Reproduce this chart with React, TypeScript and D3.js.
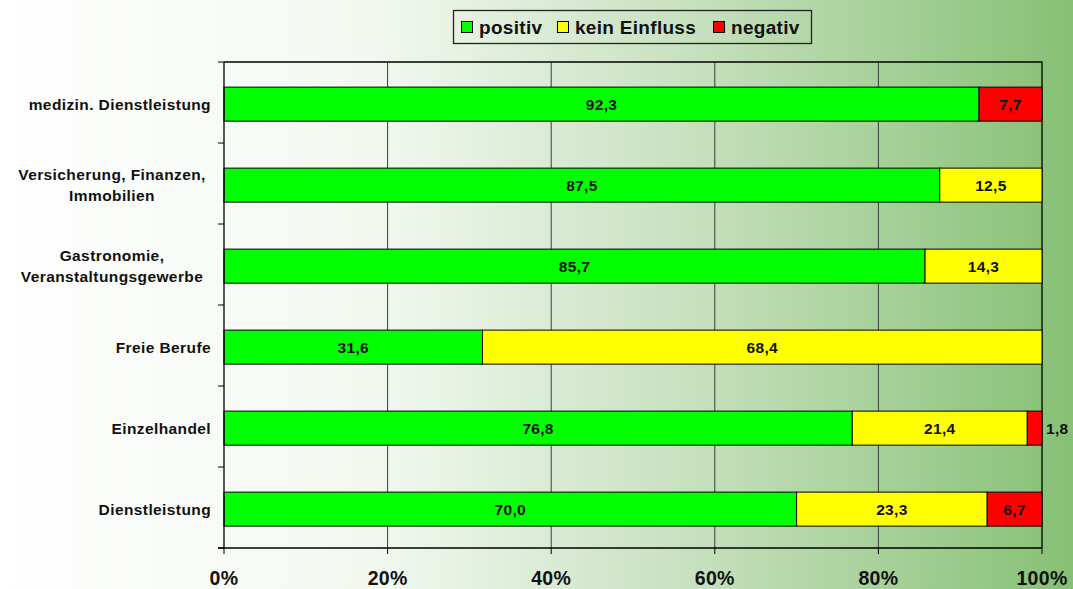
import React, { useEffect, useRef } from "react";
import * as d3 from "d3";

const categories = [
  "medizin. Dienstleistung",
  "Versicherung, Finanzen,|Immobilien",
  "Gastronomie,|Veranstaltungsgewerbe",
  "Freie Berufe",
  "Einzelhandel",
  "Dienstleistung",
];
const seriesNames = ["positiv", "kein Einfluss", "negativ"];
const seriesColors = ["#00ff00", "#ffff00", "#ff0000"];
const positiv = [92.3, 87.5, 85.7, 31.6, 76.8, 70.0];
const keinEinfluss = [0, 12.5, 14.3, 68.4, 21.4, 23.3];
const negativ = [7.7, 0, 0, 0, 1.8, 6.7];
const xTicks = [0, 20, 40, 60, 80, 100];

const W = 1073;
const H = 589;

export default function App() {
  const ref = useRef<SVGSVGElement>(null);

  useEffect(() => {
    document.body.style.margin = "0";
    const svg = d3.select(ref.current);
    svg.selectAll("*").remove();

    const font = "'Liberation Sans', Arial, sans-serif";
    const margin = { top: 62, right: 31, bottom: 41, left: 224 };

    const defs = svg.append("defs");
    const grad = defs.append("linearGradient").attr("id", "bg").attr("x1", "0").attr("x2", "1").attr("y1", "0").attr("y2", "0");
    grad.append("stop").attr("offset", "0").attr("stop-color", "#ffffff");
    grad.append("stop").attr("offset", "0.35").attr("stop-color", "#f2f8f0");
    grad.append("stop").attr("offset", "0.65").attr("stop-color", "#c6e0bd");
    grad.append("stop").attr("offset", "1").attr("stop-color", "#86c074");
    svg.append("rect").attr("width", W).attr("height", H).attr("fill", "url(#bg)");

    const x = d3.scaleLinear().domain([0, 100]).range([margin.left, W - margin.right]);
    const y = d3.scaleBand().domain(categories).range([margin.top, H - margin.bottom]);
    const barOff = y.bandwidth() * 0.31;
    const barH = y.bandwidth() * 0.42;

    // grid
    svg.append("g")
      .selectAll("line")
      .data(xTicks.slice(1, -1))
      .join("line")
      .attr("x1", d => x(d)).attr("x2", d => x(d))
      .attr("y1", margin.top).attr("y2", H - margin.bottom)
      .attr("stroke", "#3a3a3a").attr("stroke-width", 1);

    // frame top/right
    svg.append("path")
      .attr("d", `M${x(0)},${margin.top}H${x(100)}V${H - margin.bottom}`)
      .attr("fill", "none").attr("stroke", "#000").attr("stroke-width", 1.3);

    // stacked bars
    const rows = categories.map((c, i) => ({ c, vals: [positiv[i], keinEinfluss[i], negativ[i]] }));
    const bars = svg.append("g");
    rows.forEach(r => {
      let acc = 0;
      const by = y(r.c)! + barOff;
      r.vals.forEach((v, s) => {
        if (v <= 0) return;
        const x0 = acc;
        acc += v;
        bars.append("rect")
          .attr("x", x(x0)).attr("y", by)
          .attr("width", x(acc) - x(x0)).attr("height", barH)
          .attr("fill", seriesColors[s]).attr("stroke", "#000").attr("stroke-width", 1);
        const small = x(acc) - x(x0) < 30;
        bars.append("text")
          .attr("x", small ? x(acc) + 4 : (x(x0) + x(acc)) / 2)
          .attr("y", by + barH / 2)
          .attr("dy", "0.36em")
          .attr("text-anchor", small ? "start" : "middle")
          .attr("font-family", font).attr("font-weight", "bold").attr("font-size", 15.5)
          .attr("letter-spacing", 0.3)
          .attr("fill", "#111")
          .text(v.toFixed(1).replace(".", ","));
      });
    });

    // y axis
    const yAxis = svg.append("g");
    yAxis.append("line").attr("x1", x(0)).attr("x2", x(0)).attr("y1", margin.top).attr("y2", H - margin.bottom)
      .attr("stroke", "#000").attr("stroke-width", 1.3);
    const bounds = [margin.top, ...categories.map(c => y(c)! + y.bandwidth())];
    yAxis.selectAll("line.tk").data(bounds).join("line").attr("class", "tk")
      .attr("x1", x(0) - 6).attr("x2", x(0)).attr("y1", d => d).attr("y2", d => d)
      .attr("stroke", "#000");
    categories.forEach(c => {
      const lines = c.split("|");
      const cy = y(c)! + barOff + barH / 2;
      const t = yAxis.append("text")
        .attr("font-family", font).attr("font-weight", "bold").attr("font-size", 15.5)
        .attr("letter-spacing", 0.4)
        .attr("fill", "#111");
      lines.forEach((l, i) => {
        t.append("tspan")
          .attr("x", lines.length > 1 ? 112 : 211)
          .attr("text-anchor", lines.length > 1 ? "middle" : "end")
          .attr("y", cy + (i - (lines.length - 1) / 2) * 21)
          .attr("dy", "0.36em")
          .text(l);
      });
    });

    // x axis
    const xAxis = svg.append("g");
    xAxis.append("line").attr("x1", x(0) - 6).attr("x2", x(100)).attr("y1", H - margin.bottom).attr("y2", H - margin.bottom)
      .attr("stroke", "#000").attr("stroke-width", 1.3);
    xAxis.selectAll("line.tk").data(xTicks).join("line").attr("class", "tk")
      .attr("x1", d => x(d)).attr("x2", d => x(d))
      .attr("y1", H - margin.bottom).attr("y2", H - margin.bottom + 6)
      .attr("stroke", "#000");
    xAxis.selectAll("text").data(xTicks).join("text")
      .attr("x", d => x(d)).attr("y", 585)
      .attr("text-anchor", "middle")
      .attr("font-family", font).attr("font-weight", "bold").attr("font-size", 19.5)
      .attr("letter-spacing", 0.3)
      .attr("fill", "#111")
      .text(d => d + "%");

    // legend
    const lg = svg.append("g");
    lg.append("rect").attr("x", 453.5).attr("y", 10.5).attr("width", 358).attr("height", 33)
      .attr("fill", "none").attr("stroke", "#222").attr("stroke-width", 1.3);
    const lx = [461, 557, 713];
    seriesNames.forEach((n, i) => {
      lg.append("rect").attr("x", lx[i] + 0.5).attr("y", 21.5).attr("width", 11).attr("height", 11)
        .attr("fill", seriesColors[i]).attr("stroke", "#000").attr("stroke-width", 1);
      lg.append("text").attr("x", lx[i] + 18).attr("y", 27).attr("dy", "0.36em")
        .attr("font-family", font).attr("font-weight", "bold").attr("font-size", 19)
        .attr("letter-spacing", 0.3)
        .attr("fill", "#111").text(n);
    });
  }, []);

  return <svg ref={ref} width={W} height={H} style={{ display: "block" }} />;
}
